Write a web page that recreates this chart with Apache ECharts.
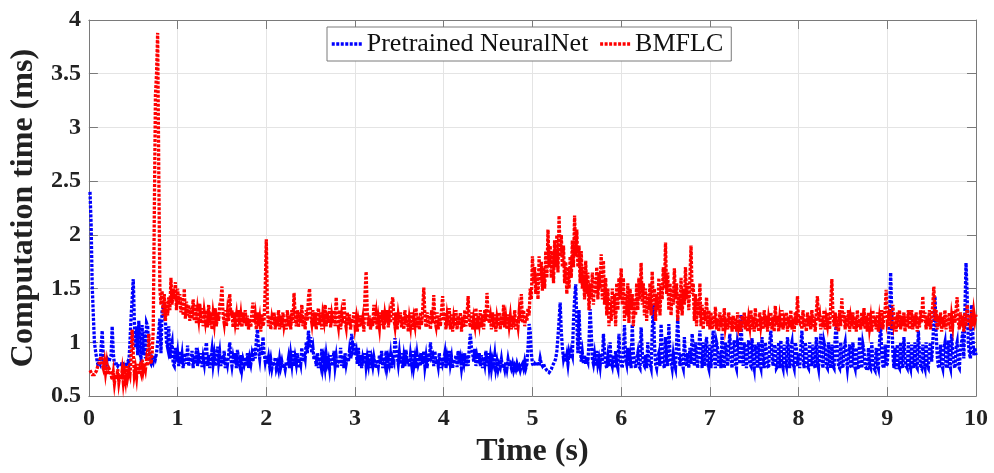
<!DOCTYPE html>
<html>
<head>
<meta charset="utf-8">
<script src="https://cdn.jsdelivr.net/npm/echarts@6/dist/echarts.min.js"></script>
<style>
html,body{margin:0;padding:0;background:#fff;}
#chart{width:994px;height:473px;}
</style>
</head>
<body>
<div id="chart"></div>
<script>
// Sampling of the time axis (s)
const timeStart = 0.0125;
const timeStep = 0.0125;

const xTicks = [0,1,2,3,4,5,6,7,8,9,10];
const yTicks = [0.5,1,1.5,2,2.5,3,3.5,4];

const seriesNames = ['Pretrained NeuralNet', 'BMFLC'];

// Pretrained NeuralNet computation time (ms), 20 samples per 0.25 s
const neuralNet = [
  2.40,2.10,1.52,1.25,1.00,0.92,0.85,0.80,0.82,0.80,0.95,1.11,0.85,0.80,0.82,0.80,0.84,0.82,0.85,0.88,
  1.15,0.90,0.80,0.79,0.80,0.78,0.80,0.79,0.80,0.78,0.80,0.79,0.78,0.80,0.82,0.80,1.00,1.23,1.40,1.59,
  1.20,0.95,1.15,0.88,1.20,0.90,0.85,1.16,0.88,1.10,0.85,1.18,1.15,0.90,0.82,0.80,0.85,0.82,0.88,0.85,
  0.90,1.00,1.10,1.22,0.90,1.30,1.33,1.25,1.20,1.00,0.95,1.15,0.85,0.95,1.00,0.80,0.78,0.95,0.82,0.90,
  0.78,0.92,0.80,0.88,0.76,0.85,0.90,0.80,0.97,0.78,0.86,0.82,0.92,0.76,0.88,0.80,0.95,0.78,0.86,0.80,
  0.90,0.77,0.86,0.80,0.92,1.00,0.78,0.88,0.76,0.85,0.93,0.80,0.88,0.78,0.85,0.96,0.82,0.90,0.78,0.88,
  0.80,0.92,0.76,0.86,0.80,0.88,1.00,0.85,0.78,0.86,0.80,0.90,0.76,0.93,0.82,0.78,0.88,0.76,0.84,0.80,
  0.86,0.78,0.90,0.76,0.85,0.80,0.88,0.82,0.95,0.85,1.02,1.12,0.92,0.85,0.98,0.88,1.05,0.90,0.82,0.88,
  0.80,0.86,0.78,0.84,0.76,0.82,0.78,0.86,0.76,0.80,0.75,0.84,0.77,0.82,0.76,0.80,0.75,0.82,0.78,0.85,
  0.76,0.88,0.80,0.92,0.78,0.86,0.80,0.90,0.76,0.85,0.80,0.95,0.82,0.90,0.85,1.00,0.90,1.11,0.95,1.05,
  0.90,0.95,0.84,0.88,0.78,0.90,0.76,0.86,0.80,0.94,0.78,0.85,0.77,0.88,0.80,0.84,0.76,0.88,0.78,0.82,
  0.92,0.78,0.86,0.76,0.84,0.80,0.95,0.78,0.88,0.76,0.90,0.80,0.86,0.82,0.92,0.85,1.08,0.95,1.00,0.88,
  0.92,0.80,0.95,0.78,0.88,0.76,0.85,0.80,0.90,0.78,0.86,0.80,0.92,0.76,0.84,0.78,0.86,0.80,0.76,0.84,
  0.78,0.88,0.80,0.92,0.76,0.86,0.80,0.92,0.78,0.85,0.80,0.88,0.76,0.85,0.82,1.04,0.95,0.88,0.80,0.90,
  0.80,0.90,0.76,0.86,0.78,0.93,0.80,0.85,0.77,0.88,0.80,0.92,0.78,0.85,0.76,0.88,0.80,0.84,0.78,0.90,
  0.80,0.92,0.78,0.86,0.76,0.90,0.82,1.00,0.86,0.88,0.78,0.92,0.80,0.84,0.78,0.90,0.76,0.86,0.80,0.84,
  0.90,0.76,0.85,0.78,0.92,0.80,0.86,0.76,0.84,0.80,0.88,0.77,0.92,0.80,0.85,0.76,0.84,0.80,0.90,0.78,
  0.88,0.78,0.95,1.08,0.95,0.90,0.82,0.94,0.78,0.86,0.80,0.90,0.78,0.88,0.76,0.86,0.80,0.92,0.78,0.90,
  0.78,0.86,0.76,0.84,0.80,0.88,0.76,0.82,0.75,0.80,0.77,0.84,0.76,0.80,0.75,0.82,0.76,0.84,0.78,0.80,
  0.76,0.80,0.74,0.78,0.75,0.80,0.76,0.78,0.74,0.78,0.80,0.76,0.82,0.76,0.80,0.95,1.17,1.10,0.90,0.80,
  0.78,0.80,0.78,0.82,0.80,0.78,0.85,0.80,0.78,0.80,0.77,0.76,0.74,0.73,0.72,0.73,0.75,0.78,0.80,0.82,
  0.85,0.92,1.05,1.20,1.37,1.10,0.95,0.85,0.90,0.82,0.88,0.80,0.90,0.85,0.92,0.88,1.20,1.40,1.54,1.20,
  0.90,1.30,1.00,0.82,0.90,0.80,0.88,0.80,0.85,0.82,1.00,1.31,1.10,0.85,0.80,0.88,0.78,0.92,0.80,0.85,
  0.78,0.90,0.80,1.08,0.92,0.80,0.76,0.86,0.78,1.00,0.82,0.78,0.88,0.76,0.92,0.80,0.76,1.08,0.85,0.80,
  0.76,0.90,1.16,0.85,0.80,0.95,0.78,0.86,0.76,1.17,0.90,0.82,0.76,0.84,0.90,0.78,0.76,1.14,0.92,0.80,
  0.78,0.88,0.76,1.00,0.84,0.80,0.76,1.10,1.35,1.00,0.80,0.76,0.86,0.90,0.78,1.17,0.95,0.80,0.76,1.05,
  0.85,0.78,1.17,0.90,0.82,0.76,0.88,0.80,0.76,1.00,1.23,0.95,0.78,0.90,0.80,0.76,1.05,0.85,0.78,0.90,
  0.76,0.95,0.80,1.08,0.95,0.78,1.00,0.88,0.76,0.95,1.11,0.90,0.76,1.00,0.78,0.92,1.05,0.80,0.76,0.98,
  0.76,0.95,1.11,0.85,0.76,1.00,0.95,0.78,0.90,0.76,1.08,0.82,0.76,1.00,0.90,0.78,0.95,1.08,0.85,0.76,
  0.95,1.02,0.80,0.76,1.00,0.95,0.80,1.26,0.95,0.78,1.00,0.90,0.76,0.95,1.02,0.80,0.78,1.04,0.82,0.76,
  0.98,0.90,0.76,1.00,0.80,0.76,1.05,0.85,0.76,1.00,0.92,0.78,0.76,1.00,1.11,0.88,0.78,0.98,0.95,0.76,
  0.78,1.00,0.76,1.02,0.80,0.76,0.98,0.82,0.78,1.05,0.90,0.76,0.95,1.00,0.80,0.76,1.00,0.95,0.78,0.90,
  0.76,0.95,1.11,0.85,0.76,1.00,0.92,0.78,0.76,1.00,0.85,0.78,0.98,0.80,0.76,1.05,0.82,0.76,0.95,1.08,
  0.85,0.76,1.00,0.95,0.78,0.76,1.00,0.82,0.76,0.98,0.78,0.76,1.05,1.17,0.90,0.78,0.76,1.00,0.80,0.76,
  0.95,1.00,0.85,0.76,0.75,0.98,0.78,0.76,1.00,0.80,0.76,0.95,0.78,0.75,1.05,0.85,0.76,0.98,0.92,0.78,
  0.76,0.74,0.95,0.78,0.76,1.00,0.82,0.76,0.74,0.95,0.80,0.76,1.00,1.17,0.90,0.78,0.76,0.98,0.78,0.80,
  1.00,1.20,1.65,1.30,0.90,0.76,0.95,0.75,0.98,0.78,0.76,1.00,0.80,0.76,1.05,0.85,0.78,0.76,1.00,0.80,
  0.76,0.98,0.80,0.76,1.00,0.78,0.76,1.11,0.90,0.78,0.76,0.98,0.80,0.76,1.00,0.78,0.76,0.95,1.00,0.82,
  1.00,1.20,1.43,1.10,0.88,0.78,0.76,0.98,0.80,0.76,0.95,1.00,0.78,0.76,1.02,0.80,0.76,1.08,0.90,0.80,
  0.76,0.95,1.00,0.78,0.76,0.95,1.00,1.10,0.85,1.30,1.74,1.45,1.00,0.90,0.85,1.35,1.10,0.88,0.95,0.88
];

// BMFLC computation time (ms), 20 samples per 0.25 s
const bmflc = [
  0.74,0.72,0.70,0.71,0.70,0.72,0.74,0.78,0.80,0.84,0.87,0.80,0.76,0.82,0.72,0.80,0.70,0.76,0.74,0.70,
  0.65,0.72,0.62,0.70,0.66,0.75,0.63,0.70,0.66,0.74,0.63,0.72,0.65,0.78,0.68,0.74,0.70,0.85,1.12,0.90,
  0.70,0.76,0.68,0.80,0.70,0.76,0.72,0.84,0.74,0.80,0.75,0.84,0.78,1.08,0.85,0.80,0.90,1.10,2.20,3.30,
  3.50,3.88,2.60,1.50,1.35,1.48,1.25,1.45,1.20,1.38,1.25,1.42,1.30,1.60,1.35,1.50,1.40,1.56,1.30,1.50,
  1.35,1.45,1.28,1.42,1.25,1.50,1.22,1.38,1.25,1.35,1.20,1.32,1.22,1.40,1.20,1.35,1.18,1.30,1.22,1.36,
  1.18,1.32,1.15,1.28,1.20,1.30,1.14,1.35,1.16,1.28,1.12,1.26,1.18,1.32,1.15,1.28,1.20,1.35,1.38,1.52,
  1.25,1.18,1.30,1.15,1.28,1.20,1.45,1.25,1.30,1.14,1.28,1.18,1.25,1.12,1.30,1.16,1.25,1.14,1.28,1.18,
  1.30,1.15,1.25,1.12,1.22,1.14,1.28,1.37,1.18,1.25,1.12,1.28,1.15,1.22,1.10,1.26,1.15,1.20,1.50,1.96,
  1.30,1.15,1.25,1.12,1.22,1.16,1.28,1.12,1.24,1.15,1.30,1.12,1.25,1.14,1.28,1.16,1.22,1.12,1.30,1.15,
  1.26,1.12,1.30,1.18,1.46,1.25,1.15,1.30,1.14,1.28,1.18,1.35,1.15,1.25,1.12,1.30,1.20,1.42,1.50,1.25,
  1.18,1.30,1.15,1.28,1.12,1.25,1.32,1.16,1.28,1.12,1.26,1.20,1.35,1.15,1.28,1.18,1.32,1.14,1.25,1.18,
  1.30,1.15,1.42,1.22,1.15,1.30,1.12,1.25,1.18,1.40,1.20,1.14,1.28,1.16,1.26,1.12,1.22,1.18,1.28,1.15,
  1.22,1.10,1.20,1.14,1.25,1.15,1.22,1.10,1.45,1.66,1.30,1.15,1.25,1.12,1.22,1.15,1.35,1.18,1.26,1.12,
  1.22,1.14,1.28,1.16,1.30,1.12,1.25,1.18,1.30,1.14,1.25,1.18,1.35,1.42,1.22,1.15,1.28,1.12,1.25,1.18,
  1.28,1.14,1.24,1.12,1.30,1.16,1.26,1.10,1.22,1.15,1.28,1.12,1.22,1.16,1.32,1.14,1.25,1.12,1.28,1.16,
  1.30,1.51,1.25,1.14,1.28,1.15,1.25,1.12,1.30,1.18,1.44,1.20,1.15,1.28,1.12,1.25,1.15,1.30,1.43,1.20,
  1.28,1.12,1.24,1.16,1.32,1.12,1.26,1.10,1.22,1.15,1.30,1.12,1.25,1.16,1.28,1.10,1.24,1.14,1.30,1.15,
  1.25,1.43,1.20,1.14,1.28,1.12,1.22,1.16,1.32,1.12,1.25,1.18,1.30,1.14,1.26,1.12,1.30,1.20,1.46,1.25,
  1.18,1.24,1.12,1.28,1.14,1.26,1.10,1.22,1.15,1.28,1.12,1.25,1.16,1.35,1.14,1.22,1.12,1.26,1.16,1.24,
  1.12,1.25,1.14,1.30,1.12,1.22,1.15,1.28,1.20,1.45,1.18,1.30,1.15,1.25,1.20,1.32,1.25,1.50,1.40,1.80,
  1.55,1.70,1.45,1.65,1.40,1.80,1.55,1.75,1.48,1.70,1.50,1.85,1.60,2.05,1.70,1.90,1.60,1.85,1.55,1.95,
  1.70,2.00,1.65,2.18,1.80,2.00,1.70,1.90,1.55,1.75,1.45,1.70,1.50,1.80,1.60,1.95,1.70,2.18,1.80,2.05,
  1.70,1.90,1.55,1.85,1.50,1.70,1.40,1.76,1.45,1.65,1.30,1.55,1.40,1.65,1.35,1.60,1.45,1.70,1.40,1.65,
  1.50,1.82,1.40,1.76,1.35,1.60,1.25,1.50,1.15,1.40,1.20,1.50,1.25,1.45,1.15,1.55,1.30,1.60,1.40,1.69,
  1.35,1.60,1.20,1.45,1.25,1.55,1.18,1.50,1.30,1.45,1.15,1.40,1.25,1.55,1.30,1.60,1.40,1.74,1.35,1.55,
  1.25,1.50,1.20,1.45,1.30,1.55,1.25,1.66,1.35,1.50,1.20,1.45,1.30,1.60,1.25,1.55,1.40,1.70,1.50,1.93,
  1.45,1.65,1.30,1.55,1.25,1.50,1.35,1.69,1.40,1.55,1.20,1.45,1.30,1.60,1.25,1.50,1.35,1.70,1.40,1.55,
  1.30,1.60,1.90,1.45,1.55,1.20,1.45,1.15,1.40,1.25,1.55,1.15,1.35,1.12,1.30,1.20,1.42,1.15,1.30,1.12,
  1.28,1.12,1.25,1.15,1.33,1.12,1.22,1.10,1.28,1.14,1.25,1.10,1.32,1.15,1.22,1.12,1.28,1.14,1.24,1.10,
  1.25,1.12,1.22,1.10,1.28,1.15,1.20,1.10,1.25,1.14,1.28,1.12,1.24,1.10,1.22,1.15,1.30,1.12,1.24,1.10,
  1.32,1.14,1.22,1.10,1.28,1.16,1.24,1.12,1.30,1.14,1.25,1.10,1.22,1.15,1.28,1.12,1.24,1.10,1.34,1.16,
  1.25,1.10,1.22,1.14,1.30,1.12,1.20,1.15,1.28,1.10,1.24,1.14,1.30,1.12,1.22,1.10,1.28,1.16,1.43,1.20,
  1.18,1.25,1.12,1.30,1.14,1.22,1.10,1.28,1.15,1.25,1.12,1.30,1.14,1.24,1.10,1.28,1.43,1.20,1.25,1.12,
  1.25,1.14,1.30,1.12,1.22,1.16,1.28,1.12,1.35,1.59,1.25,1.15,1.28,1.12,1.24,1.10,1.30,1.15,1.41,1.20,
  1.28,1.12,1.25,1.14,1.30,1.10,1.22,1.15,1.28,1.12,1.24,1.10,1.30,1.14,1.22,1.12,1.28,1.15,1.32,1.12,
  1.25,1.10,1.28,1.14,1.22,1.10,1.30,1.15,1.24,1.12,1.28,1.10,1.22,1.14,1.30,1.12,1.25,1.30,1.49,1.20,
  1.25,1.15,1.30,1.12,1.35,1.18,1.24,1.10,1.28,1.14,1.30,1.12,1.25,1.15,1.28,1.10,1.24,1.14,1.30,1.12,
  1.22,1.30,1.12,1.25,1.15,1.28,1.10,1.24,1.14,1.30,1.18,1.43,1.20,1.28,1.12,1.25,1.15,1.30,1.12,1.24,
  1.35,1.52,1.20,1.30,1.12,1.25,1.15,1.28,1.10,1.24,1.14,1.30,1.12,1.25,1.15,1.28,1.10,1.24,1.16,1.30,
  1.18,1.30,1.42,1.20,1.12,1.28,1.15,1.25,1.10,1.28,1.15,1.35,1.18,1.26,1.12,1.30,1.15,1.28,1.20,1.26
];

function pairs(vals){
  return vals.map((v,i)=>[+(timeStart + i*timeStep).toFixed(4), v]);
}

const FONT = '"Liberation Serif", "Times New Roman", serif';
const AXC = '#7a7a7a';
const GRIDC = '#e4e4e4';
const DASH = [3, 1.5];

const chart = echarts.init(document.getElementById('chart'), null, {renderer:'canvas'});

const xMin = xTicks[0], xMax = xTicks[xTicks.length-1], xInt = xTicks[1]-xTicks[0];
const yMin = yTicks[0], yMax = yTicks[yTicks.length-1], yInt = yTicks[1]-yTicks[0];

const option = {
  animation: false,
  backgroundColor: '#fff',
  grid: {left: 87, right: 18, top: 20, bottom: 74, containLabel: false},
  legend: {
    left: 327, top: 27,
    orient: 'horizontal',
    data: seriesNames,
    borderColor: AXC, borderWidth: 1,
    backgroundColor: '#fff',
    padding: [4, 8, 4, 3],
    itemGap: 10,
    itemWidth: 30, itemHeight: 5,
    itemStyle: {opacity: 0},
    lineStyle: {width: 3.5, type: DASH, cap: 'butt'},
    textStyle: {fontFamily: FONT, fontSize: 26, color: '#111'}
  },
  xAxis: [{
    type: 'value', position: 'bottom',
    min: xMin, max: xMax, interval: xInt,
    name: 'Time (s)', nameLocation: 'middle', nameGap: 36,
    nameTextStyle: {fontFamily: FONT, fontWeight: 'bold', fontSize: 32, color: '#222'},
    axisLine: {show: true, onZero: false, lineStyle: {color: AXC, width: 1}},
    axisTick: {show: true, inside: true, length: 9, lineStyle: {color: AXC}},
    axisLabel: {fontFamily: FONT, fontWeight: 'bold', fontSize: 24, color: '#222', margin: 11},
    splitLine: {show: true, lineStyle: {color: GRIDC, width: 1}}
  }, {
    type: 'value', position: 'top',
    min: xMin, max: xMax, interval: xInt,
    axisLine: {show: true, onZero: false, lineStyle: {color: AXC, width: 1}},
    axisTick: {show: true, inside: true, length: 9, lineStyle: {color: AXC}},
    axisLabel: {show: false},
    splitLine: {show: false}
  }],
  yAxis: [{
    type: 'value', position: 'left',
    min: yMin, max: yMax, interval: yInt,
    name: 'Computation time (ms)', nameLocation: 'middle', nameGap: 42, nameRotate: 90,
    nameTextStyle: {fontFamily: FONT, fontWeight: 'bold', fontSize: 32, color: '#222'},
    axisLine: {show: true, onZero: false, lineStyle: {color: AXC, width: 1}},
    axisTick: {show: true, inside: true, length: 9, lineStyle: {color: AXC}},
    axisLabel: {fontFamily: FONT, fontWeight: 'bold', fontSize: 24, color: '#222', margin: 8},
    splitLine: {show: true, lineStyle: {color: GRIDC, width: 1}}
  }, {
    type: 'value', position: 'right',
    min: yMin, max: yMax, interval: yInt,
    axisLine: {show: true, onZero: false, lineStyle: {color: AXC, width: 1}},
    axisTick: {show: true, inside: true, length: 9, lineStyle: {color: AXC}},
    axisLabel: {show: false},
    splitLine: {show: false}
  }],
  series: [{
    name: seriesNames[0], type: 'line', xAxisIndex: 0, yAxisIndex: 0,
    data: pairs(neuralNet),
    symbol: 'none', smooth: false,
    lineStyle: {color: '#0000ff', width: 3.3, type: DASH, cap: 'butt', join: 'miter'},
    itemStyle: {color: '#0000ff'},
    z: 2
  }, {
    name: seriesNames[1], type: 'line', xAxisIndex: 0, yAxisIndex: 0,
    data: pairs(bmflc),
    symbol: 'none', smooth: false,
    lineStyle: {color: '#ff0000', width: 3.3, type: DASH, cap: 'butt', join: 'miter'},
    itemStyle: {color: '#ff0000'},
    z: 3
  }]
};
chart.setOption(option);
</script>
</body>
</html>
